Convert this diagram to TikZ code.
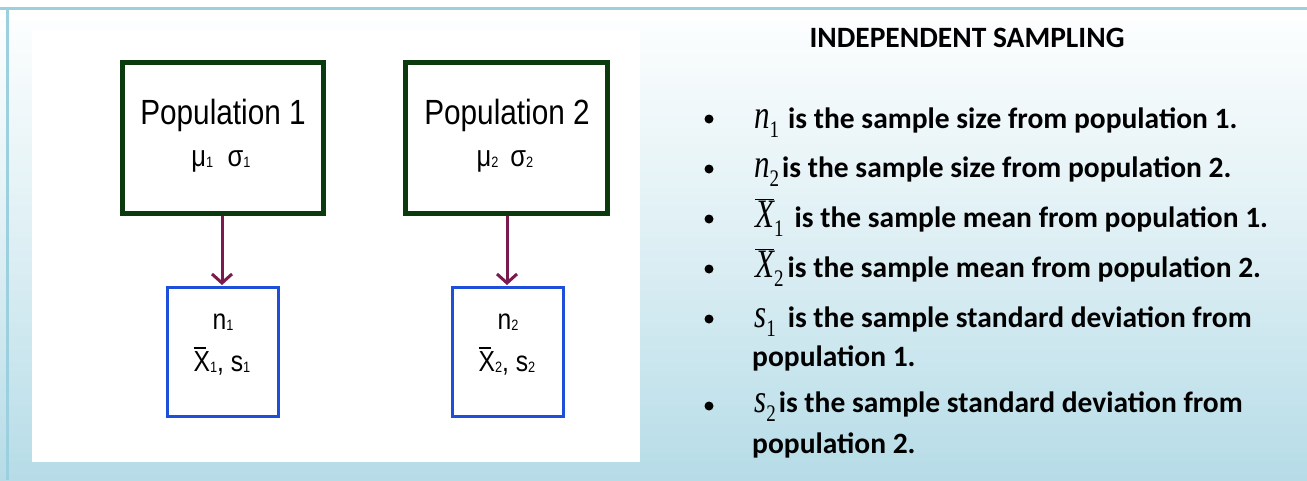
\documentclass[tikz,border=0pt]{standalone}
\usepackage{fontspec}
\setmainfont{Liberation Sans}
\newfontfamily\calfont{Carlito}
\newfontfamily\tmsfont{Liberation Serif}
\usetikzlibrary{arrows.meta}
\definecolor{bgblue}{HTML}{B6DCE7}
\definecolor{edgeblue}{HTML}{9CD0DE}
\definecolor{popgreen}{HTML}{0B3A0E}
\definecolor{arrowred}{HTML}{7B1A4F}
\definecolor{sampblue}{HTML}{1E4FD8}
\newcommand{\fs}[1]{\fontsize{#1}{#1}\selectfont}
\newcommand{\hs}[1]{\scalebox{0.85}[1]{#1}}
\newcommand{\ssub}[1]{\raisebox{-1pt}{\fs{15}#1}}
\newcommand{\msub}[1]{\raisebox{-9pt}{\scalebox{1}[1.25]{\tmsfont\mdseries\upshape\fs{19}#1}}}
\newcommand{\mvar}[1]{\scalebox{1}[1.3]{\tmsfont\mdseries\itshape\fs{31}#1}}
\newcommand{\mbar}[1]{\ensuremath{\overline{\mbox{\mvar{#1}}}}}
\begin{document}
\begin{tikzpicture}[x=1pt,y=-1pt,
  popbox/.style={draw=popgreen,line width=5pt,fill=white},
  sampbox/.style={draw=sampblue,line width=3pt,fill=white},
  link/.style={draw=arrowred,line width=3pt,-{Straight Barb[length=9pt,width=20pt,line width=3pt]}},
  bodytext/.style={anchor=base west,inner sep=0pt,font=\calfont\bfseries\fs{29.5}},
  bul/.style={circle,fill=black,inner sep=0pt,minimum size=9pt}]
\useasboundingbox (0,0) rectangle (1307,480);
\shade[top color=white,bottom color=bgblue,middle color=white!55!bgblue] (0,0) rectangle (1307,480);
\fill[white] (0,0) rectangle (1307,20);
\fill[edgeblue] (0,7) rectangle (1307,10);
\fill[edgeblue] (6,7) rectangle (9,480);
\fill[white] (32,30) rectangle (640,462);
% population boxes
\draw[popbox] (122,62) rectangle (323,213);
\draw[popbox] (405,62) rectangle (607,213);
\coordinate (p1b) at (222,215.5);
\coordinate (p2b) at (507,215.5);
\node (p1t) at (223,115) {\hs{\fs{35}Population 1}};
\node (p1m) at (221,161) {\hs{\fs{30}μ\ssub{1}\hspace{17pt}σ\ssub{1}}};
\node (p2t) at (507,115) {\hs{\fs{35}Population 2}};
\node (p2m) at (505,161) {\hs{\fs{30}μ\ssub{2}\hspace{14pt}σ\ssub{2}}};
% sample boxes
\draw[sampbox] (167,287) rectangle (278,416);
\draw[sampbox] (452,287) rectangle (563,416);
\coordinate (s1t) at (222,285);
\coordinate (s2t) at (507,285);
\node (s1n) at (223,322) {\hs{\fs{29}n\ssub{1}}};
\node (s1x) at (222,361) {\hs{\fs{29}\rlap{\raisebox{22pt}{\rule{14pt}{1.7pt}}}X\ssub{1}, s\ssub{1}}};
\node (s2n) at (508,322) {\hs{\fs{29}n\ssub{2}}};
\node (s2x) at (507,361) {\hs{\fs{29}\rlap{\raisebox{22pt}{\rule{14pt}{1.7pt}}}X\ssub{2}, s\ssub{2}}};
% arrows
\draw[link] (p1b) -- (s1t);
\draw[link] (p2b) -- (s2t);
% right text
\node[anchor=center,inner sep=0pt,font=\calfont\bfseries\fs{29.5}] (title) at (967,38) {INDEPENDENT SAMPLING};
\node[bul] (b1) at (709,119) {};
\node[bul] (b2) at (709,169) {};
\node[bul] (b3) at (709,219) {};
\node[bul] (b4) at (709,269) {};
\node[bul] (b5) at (709,319) {};
\node[bul] (b6) at (709,406) {};
\node[bodytext] (t1) at (754,128) {\mvar{n}\msub{1}\hspace{9pt}is the sample size from population 1.};
\node[bodytext] (t2) at (754,177) {\mvar{n}\msub{2}\hspace{3pt}is the sample size from population 2.};
\node[bodytext] (t3) at (755,227) {\mbar{X}\msub{1}\hspace{11pt}is the sample mean from population 1.};
\node[bodytext] (t4) at (755,277) {\mbar{X}\msub{2}\hspace{4pt}is the sample mean from population 2.};
\node[bodytext] (t5) at (754,327) {\mvar{s}\msub{1}\hspace{12pt}is the sample standard deviation from};
\node[bodytext] (t5b) at (752,366) {population 1.};
\node[bodytext] (t6) at (754,412) {\mvar{s}\msub{2}\hspace{3pt}is the sample standard deviation from};
\node[bodytext] (t6b) at (752,453) {population 2.};
\end{tikzpicture}
\end{document}
